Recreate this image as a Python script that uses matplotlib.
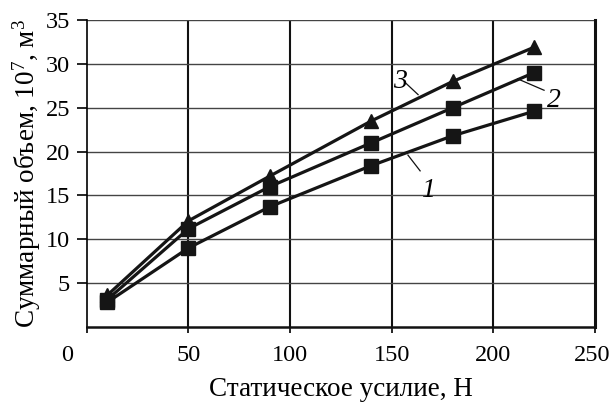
import matplotlib
matplotlib.use("Agg")
import matplotlib.pyplot as plt
import matplotlib.transforms as mtransforms

plt.rcParams['font.family'] = ['Liberation Serif', 'DejaVu Serif']
plt.rcParams['mathtext.fontset'] = 'custom'
plt.rcParams['mathtext.rm'] = 'Liberation Serif'
plt.rcParams['mathtext.it'] = 'Liberation Serif:italic'

force = [10, 50, 90, 140, 180, 220]
series1 = [2.8, 9.0, 13.7, 18.4, 21.8, 24.6]
series2 = [3.1, 11.2, 16.0, 21.0, 25.0, 29.0]
series3 = [3.6, 12.1, 17.2, 23.5, 28.0, 31.9]
xticks = [0, 50, 100, 150, 200, 250]
yticks = [5, 10, 15, 20, 25, 30, 35]
curve_labels = ['1', '2', '3']

fig = plt.figure(figsize=(6.12, 4.03), dpi=100)
ax = fig.add_axes([0.142, 0.189, 0.830, 0.761])
ax.set_xlim(0, 250)
ax.set_ylim(0, 35)

for xv in [50, 100, 150, 200]:
    ax.axvline(xv, color='#111111', lw=1.5, zorder=1)
for yv in [5, 10, 15, 20, 25, 30, 35]:
    ax.axhline(yv, color='#444444', lw=1.0, zorder=1)

lw = 2.3
ax.plot(force, series1, '-s', color='#151515', lw=lw, ms=9.5, zorder=3)
ax.plot(force, series2, '-s', color='#151515', lw=lw, ms=9.5, zorder=3)
ax.plot(force, series3, '-^', color='#151515', lw=lw, ms=10, zorder=3)

ax.spines['top'].set_visible(False)
ax.spines['right'].set_linewidth(2.2)
ax.spines['left'].set_linewidth(1.2)
ax.spines['bottom'].set_linewidth(1.8)
ax.spines['right'].set_color('#111111')
ax.spines['bottom'].set_color('#111111')

ax.set_xticks(xticks)
ax.set_yticks(yticks)
ax.tick_params(axis='x', direction='out', length=4, width=1.2, pad=9, labelsize=17.5)
ax.tick_params(axis='y', direction='out', length=7, width=1.2, pad=5, labelsize=17.5)
offset = mtransforms.ScaledTranslation(-0.20, 0, fig.dpi_scale_trans)
lab0 = ax.get_xticklabels()[0]
lab0.set_transform(lab0.get_transform() + offset)
offset_r = mtransforms.ScaledTranslation(-0.03, 0, fig.dpi_scale_trans)
labr = ax.get_xticklabels()[-1]
labr.set_transform(labr.get_transform() + offset_r)

ax.set_xlabel('Статическое усилие, Н', fontsize=19.5, labelpad=8)
ax.set_ylabel('Суммарный объем, 10$^7$, м$^3$', fontsize=19.5, labelpad=2)

# curve labels with leader lines
lab_pos = [(168, 15.6), (230, 25.8), (154, 28.0)]
leaders = [((158, 19.6), (164, 17.8)), ((212, 28.3), (225, 27.0)), ((157, 27.8), (163, 26.5))]
for t, (lx, ly), ((x0, y0), (x1, y1)) in zip(curve_labels, lab_pos, leaders):
    ax.text(lx, ly, t, fontsize=20, style='italic', ha='center', va='center')
    ax.plot([x0, x1], [y0, y1], color='#111111', lw=0.9, zorder=2)

fig.savefig('out.png', dpi=100)
